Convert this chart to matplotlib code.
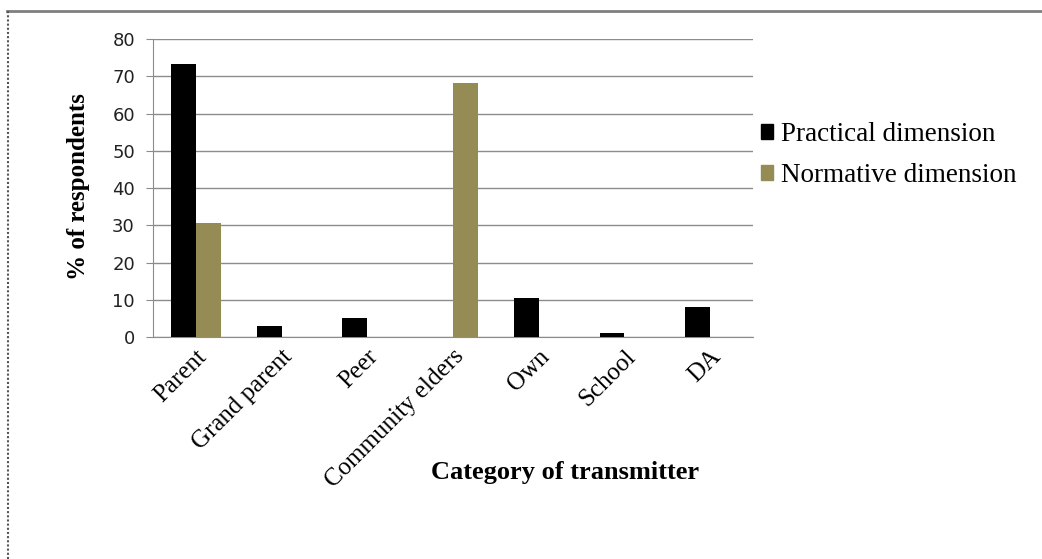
import numpy as np
import matplotlib.pyplot as plt
from matplotlib.lines import Line2D
from matplotlib.patches import Patch

# data
categories = ['Parent', 'Grand parent', 'Peer', 'Community elders', 'Own', 'School', 'DA']
practical = [73.2, 3.0, 5.0, 0, 10.5, 1.2, 8.0]
normative = [30.7, 0, 0, 68.2, 0, 0, 0]

black = '#000000'
olive = '#958B55'
grid_grey = '#8C8C8C'

fig = plt.figure(figsize=(10.42, 5.59), dpi=100)
ax = fig.add_axes([0.1468, 0.397, 0.5758, 0.533])

x = np.arange(len(categories))
w = 0.29
ax.bar(x - w / 2, practical, width=w, color=black, zorder=3)
ax.bar(x + w / 2, normative, width=w, color=olive, zorder=3)

ax.set_xlim(-0.5, len(categories) - 0.5)
ax.set_ylim(0, 80)
ax.set_yticks(range(0, 81, 10))
ax.yaxis.grid(True, color=grid_grey, linewidth=1)
ax.set_axisbelow(True)

for s in ['top', 'right']:
    ax.spines[s].set_visible(False)
ax.spines['left'].set_color(grid_grey)
ax.spines['bottom'].set_color(grid_grey)

ax.tick_params(axis='y', direction='out', length=5, color=grid_grey,
               labelsize=13, labelcolor='#222222', pad=8)
ax.tick_params(axis='x', length=0, pad=6)
ax.set_xticks(x)
ax.set_xticklabels(categories, rotation=45, ha='right', rotation_mode='anchor',
                   family='Liberation Serif', fontsize=18)
for lab in ax.get_yticklabels():
    lab.set_family('DejaVu Sans')

fig.text(78 / 1042, 1 - 187 / 559, '% of respondents', rotation=90, ha='center', va='center',
         family='Liberation Serif', fontweight='bold', fontsize=18)
fig.text(565 / 1042, 1 - 473 / 559, 'Category of transmitter', ha='center', va='center',
         family='Liberation Serif', fontweight='bold', fontsize=19)

handles = [Patch(color=black), Patch(color=olive)]
fig.legend(handles, ['Practical dimension', 'Normative dimension'],
           loc='center left', bbox_to_anchor=(761 / 1042, 1 - 155 / 559), frameon=False,
           prop={'family': 'Liberation Serif', 'size': 19.5}, borderpad=0, borderaxespad=0,
           handlelength=0.45, handleheight=0.45, handletextpad=0.3, labelspacing=0.6)

# outer frame lines (top solid, left dotted)
fig.add_artist(Line2D([0.007, 1.0], [1 - 11 / 559] * 2, color='#7F7F7F', linewidth=2,
                      transform=fig.transFigure))
fig.add_artist(Line2D([8 / 1042] * 2, [0, 1 - 11 / 559], color='#555555', linewidth=1.5,
                      linestyle=(0, (1, 1)), transform=fig.transFigure))

fig.savefig('out.png', dpi=100)
